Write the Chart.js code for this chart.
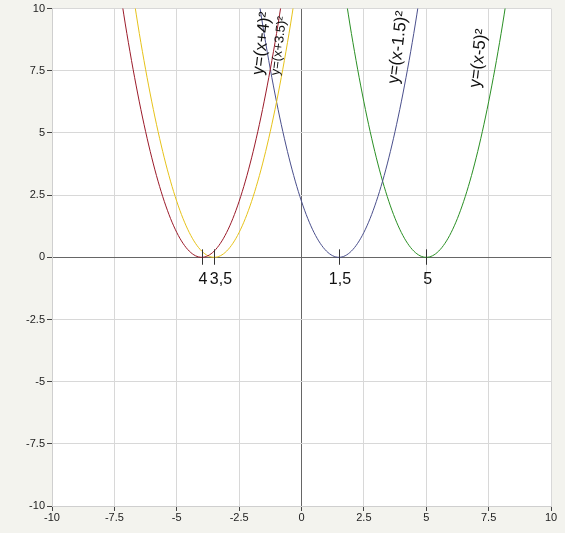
<!DOCTYPE html>
<html>
<head>
<meta charset="utf-8">
<script src="https://cdn.jsdelivr.net/npm/chart.js@4"></script>
<style>
  html, body { margin: 0; padding: 0; background: #f3f3ee; }
  #wrap { width: 565px; height: 533px; }
</style>
</head>
<body>
<div id="wrap"><canvas id="myChart" width="565" height="533"></canvas></div>
<script>
// sample points, one list per curve
const redX = [-7.5, -7, -6.5, -6, -5.5, -5, -4.5, -4, -3.5, -3, -2.5, -2, -1.5, -1, -0.5];
const redY = [12.25, 9, 6.25, 4, 2.25, 1, 0.25, 0, 0.25, 1, 2.25, 4, 6.25, 9, 12.25];
const yellowX = [-7, -6.5, -6, -5.5, -5, -4.5, -4, -3.5, -3, -2.5, -2, -1.5, -1, -0.5, 0];
const yellowY = [12.25, 9, 6.25, 4, 2.25, 1, 0.25, 0, 0.25, 1, 2.25, 4, 6.25, 9, 12.25];
const blueX = [-2, -1.5, -1, -0.5, 0, 0.5, 1, 1.5, 2, 2.5, 3, 3.5, 4, 4.5, 5];
const blueY = [12.25, 9, 6.25, 4, 2.25, 1, 0.25, 0, 0.25, 1, 2.25, 4, 6.25, 9, 12.25];
const greenX = [1.5, 2, 2.5, 3, 3.5, 4, 4.5, 5, 5.5, 6, 6.5, 7, 7.5, 8, 8.5];
const greenY = [12.25, 9, 6.25, 4, 2.25, 1, 0.25, 0, 0.25, 1, 2.25, 4, 6.25, 9, 12.25];

const curveNames = ['y=(x+4)²', 'y=(x+3.5)²', 'y=(x-1.5)²', 'y=(x-5)²'];
const curveColors = ['#9b1b2a', '#e6c21a', '#4a4f8c', '#2a8f24'];

// vertices and their labels
const vertexX = [-4, -3.5, 1.5, 5];
const vertexLabels = ['4', '3,5', '1,5', '5'];
const vertexLabelX = [-3.95, -3.23, 1.54, 5.06];

// rotated curve captions, in data units
const captionX = [-1.58, -0.9, 3.87, 7.1];
const captionY = [8.6, 8.5, 8.44, 8.0];
const captionSize = [17, 13, 17, 17];

const toPoints = (xs, ys) => xs.map((x, i) => ({ x, y: ys[i] }));
const series = [toPoints(redX, redY), toPoints(yellowX, yellowY), toPoints(blueX, blueY), toPoints(greenX, greenY)];

const FONT = '"Liberation Sans", Arial, sans-serif';

const backgroundPlugin = {
  id: 'bg',
  beforeDraw: (chart) => {
    const { ctx, chartArea } = chart;
    ctx.save();
    ctx.fillStyle = '#f3f3ee';
    ctx.fillRect(0, 0, chart.width, chart.height);
    ctx.fillStyle = '#ffffff';
    ctx.fillRect(chartArea.left, chartArea.top, chartArea.right - chartArea.left, chartArea.bottom - chartArea.top);
    ctx.restore();
  }
};

const annotationPlugin = {
  id: 'notes',
  afterDatasetsDraw: (chart) => {
    const { ctx, scales: { x, y } } = chart;
    ctx.save();
    // vertex marks
    ctx.strokeStyle = '#333';
    ctx.lineWidth = 1;
    vertexX.forEach((vx) => {
      const px = Math.round(x.getPixelForValue(vx)) + 0.5;
      ctx.beginPath();
      ctx.moveTo(px, y.getPixelForValue(0.32));
      ctx.lineTo(px, y.getPixelForValue(-0.3));
      ctx.stroke();
    });
    ctx.fillStyle = '#111';
    ctx.font = '16px ' + FONT;
    ctx.textAlign = 'center';
    ctx.textBaseline = 'middle';
    vertexLabels.forEach((t, i) => {
      ctx.fillText(t, x.getPixelForValue(vertexLabelX[i]), y.getPixelForValue(-0.88));
    });
    // curve captions
    curveNames.forEach((t, i) => {
      ctx.save();
      ctx.translate(x.getPixelForValue(captionX[i]), y.getPixelForValue(captionY[i]));
      ctx.rotate(-83 * Math.PI / 180);
      ctx.font = captionSize[i] + 'px ' + FONT;
      ctx.fillStyle = '#111';
      ctx.fillText(t, 0, 0);
      ctx.restore();
    });
    ctx.restore();
  }
};

const gridColor = (c) => (c.tick && c.tick.value === 0 ? '#666666' : '#d8d8d8');

const myChart = new Chart(document.getElementById('myChart'), {
  type: 'scatter',
  data: {
    datasets: series.map((pts, i) => ({
      label: curveNames[i],
      data: pts,
      showLine: true,
      borderColor: curveColors[i],
      borderWidth: 1,
      pointRadius: 0,
      cubicInterpolationMode: 'monotone',
      fill: false
    }))
  },
  options: {
    responsive: false,
    animation: false,
    layout: { padding: { top: 6, right: 14, left: 0, bottom: 0 } },
    plugins: { legend: { display: false }, tooltip: { enabled: false } },
    scales: {
      x: {
        type: 'linear',
        min: -10,
        max: 10,
        afterFit: (s) => { s.height = 27; },
        ticks: { stepSize: 2.5, color: '#222', font: { size: 11, family: FONT }, padding: 0, maxRotation: 0, autoSkip: false },
        grid: { color: gridColor, tickColor: '#444', tickLength: 5 },
        border: { display: true, color: '#cfcfcf' }
      },
      y: {
        type: 'linear',
        min: -10,
        max: 10,
        afterFit: (s) => { s.width = 52; },
        ticks: { stepSize: 2.5, color: '#222', font: { size: 11, family: FONT }, padding: 2, autoSkip: false },
        grid: { color: gridColor, tickColor: '#444', tickLength: 5 },
        border: { display: true, color: '#cfcfcf' }
      }
    }
  },
  plugins: [backgroundPlugin, annotationPlugin]
});
</script>
</body>
</html>
